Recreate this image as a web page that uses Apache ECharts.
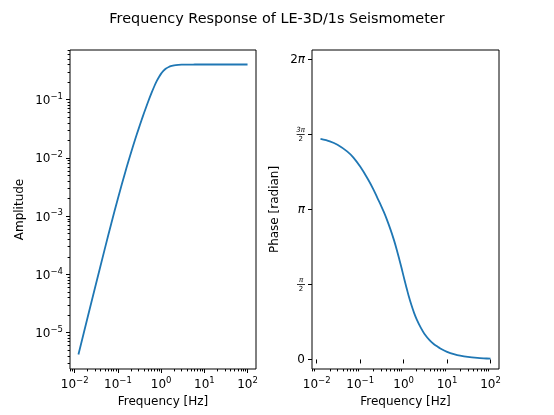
<!DOCTYPE html>
<html><head><meta charset="utf-8">
<script src="https://cdn.jsdelivr.net/npm/echarts@6/dist/echarts.min.js"></script>
<style>html,body{margin:0;padding:0;background:#fff}#c{width:554px;height:415px}</style>
</head><body><div id="c"></div>
<script>
const titleText = 'Frequency Response of LE-3D/1s Seismometer';
const freq = [0.0122, 0.02, 0.03, 0.05, 0.07, 0.1, 0.15, 0.2, 0.25, 0.3, 0.35, 0.4, 0.5, 0.6, 0.7, 0.8, 0.9, 1.0, 1.1, 1.2, 1.3, 1.5, 1.75, 2, 2.5, 3, 4, 5, 6, 7, 10, 15, 20, 30, 50, 70, 100];
const amplitude = [4.21e-6, 1.85e-5, 6.18e-5, 2.79e-4, 7.38e-4, 2.01e-3, 5.91e-3, 0.0121, 0.0206, 0.0311, 0.0437, 0.0581, 0.0918, 0.130, 0.171, 0.211, 0.247, 0.279, 0.305, 0.325, 0.341, 0.363, 0.378, 0.387, 0.394, 0.397, 0.399, 0.3994, 0.3997, 0.3998, 0.3999, 0.4, 0.4, 0.4, 0.4, 0.4, 0.4];
const phase = [4.62, 4.57, 4.50, 4.36, 4.23, 4.04, 3.78, 3.57, 3.38, 3.23, 3.09, 2.96, 2.72, 2.50, 2.29, 2.09, 1.91, 1.74, 1.59, 1.46, 1.34, 1.15, 0.97, 0.84, 0.66, 0.54, 0.40, 0.32, 0.27, 0.23, 0.16, 0.106, 0.079, 0.053, 0.032, 0.023, 0.016];

const xMajorTicks = [0.01, 0.1, 1, 10, 100];
const xMajorExps = ['\u22122', '\u22121', '0', '1', '2'];
const xMinorTicks = [0.008, 0.009,
  0.02, 0.03, 0.04, 0.05, 0.06, 0.07, 0.08, 0.09,
  0.2, 0.3, 0.4, 0.5, 0.6, 0.7, 0.8, 0.9,
  2, 3, 4, 5, 6, 7, 8, 9,
  20, 30, 40, 50, 60, 70, 80, 90];
const ampMajorTicks = [1e-5, 1e-4, 1e-3, 1e-2, 1e-1];
const ampMajorExps = ['\u22125', '\u22124', '\u22123', '\u22122', '\u22121'];
const ampMinorTicks = [3e-6, 4e-6, 5e-6, 6e-6, 7e-6, 8e-6, 9e-6,
  2e-5, 3e-5, 4e-5, 5e-5, 6e-5, 7e-5, 8e-5, 9e-5,
  2e-4, 3e-4, 4e-4, 5e-4, 6e-4, 7e-4, 8e-4, 9e-4,
  2e-3, 3e-3, 4e-3, 5e-3, 6e-3, 7e-3, 8e-3, 9e-3,
  0.02, 0.03, 0.04, 0.05, 0.06, 0.07, 0.08, 0.09,
  0.2, 0.3, 0.4, 0.5, 0.6, 0.7];
const phaseTicks = [0, Math.PI / 2, Math.PI, 3 * Math.PI / 2, 2 * Math.PI];
const phaseLabels = ['0', '{n|\u03c0}\n{l| }\n{d|2}', '{i|\u03c0}', '{n|3\u03c0}\n{l| }\n{d|2}', '2{i|\u03c0}'];

const xMin = 0.00778, xMax = 157.0;
const ampMin = 2.373e-6, ampMax = 0.7096;
const phaseMin = -0.2, phaseMax = 2 * Math.PI + 0.2;

const FONT = 'DejaVu Sans';
const supRich = {
  b: { fontSize: 12, fontFamily: FONT, color: '#000', lineHeight: 15, verticalAlign: 'bottom' },
  s: { fontSize: 8.5, fontFamily: FONT, color: '#000', lineHeight: 9, verticalAlign: 'top' }
};
function expIndex(ticks, v) {
  let best = 0, bd = Infinity;
  ticks.forEach((t, i) => { const d = Math.abs(Math.log10(t) - Math.log10(v)); if (d < bd) { bd = d; best = i; } });
  return best;
}
const tickLine = { color: '#000', width: 1 };

function logAxisMajor(gridIndex, position, min, max, ticks, exps, name, nameGap) {
  return {
    type: 'log', gridIndex, position, min, max, logBase: 10,
    name, nameLocation: 'middle', nameGap,
    nameTextStyle: { fontSize: 12, fontFamily: FONT, color: '#000' },
    axisLine: { show: false },
    splitLine: { show: false },
    axisTick: { show: true, customValues: ticks, length: 4, lineStyle: tickLine },
    axisLabel: {
      show: true, customValues: ticks, margin: 7,
      formatter: v => '{b|10}{s|' + exps[expIndex(ticks, v)] + '}',
      rich: supRich
    }
  };
}
function logAxisMinor(gridIndex, position, min, max, ticks) {
  return {
    type: 'log', gridIndex, position, offset: 0, min, max, logBase: 10,
    axisLine: { show: false }, splitLine: { show: false },
    axisTick: { show: true, customValues: ticks, length: 2.4, lineStyle: tickLine },
    axisLabel: { show: false }
  };
}

const chart = echarts.init(document.getElementById('c'), null, { renderer: 'canvas' });
chart.setOption({
  animation: false,
  backgroundColor: '#fff',
  title: {
    text: titleText, left: 'center', top: 7,
    textStyle: { fontSize: 14.4, fontWeight: 'normal', fontFamily: FONT, color: '#000' }
  },
  grid: [
    { left: 70, top: 50, width: 186, height: 319, show: true, borderColor: '#000', borderWidth: 1, backgroundColor: 'transparent' },
    { left: 312, top: 50, width: 187, height: 319, show: true, borderColor: '#000', borderWidth: 1, backgroundColor: 'transparent' }
  ],
  xAxis: [
    logAxisMajor(0, 'bottom', xMin, xMax, xMajorTicks, xMajorExps, 'Frequency [Hz]', 26),
    logAxisMinor(0, 'bottom', xMin, xMax, xMinorTicks),
    logAxisMajor(1, 'bottom', xMin, xMax, xMajorTicks, xMajorExps, 'Frequency [Hz]', 26),
    logAxisMinor(1, 'bottom', xMin, xMax, xMinorTicks)
  ],
  yAxis: [
    logAxisMajor(0, 'left', ampMin, ampMax, ampMajorTicks, ampMajorExps, 'Amplitude', 44),
    logAxisMinor(0, 'left', ampMin, ampMax, ampMinorTicks),
    {
      type: 'value', gridIndex: 1, position: 'left', min: phaseMin, max: phaseMax,
      name: 'Phase [radian]', nameLocation: 'middle', nameGap: 31,
      nameTextStyle: { fontSize: 12, fontFamily: FONT, color: '#000' },
      axisLine: { show: false }, splitLine: { show: false },
      axisTick: { show: true, customValues: phaseTicks, length: 4, lineStyle: tickLine },
      axisLabel: {
        show: true, customValues: phaseTicks, margin: 7,
        formatter: v => { let bi = 0, bd = Infinity; phaseTicks.forEach((t, i) => { const d = Math.abs(t - v); if (d < bd) { bd = d; bi = i; } }); return phaseLabels[bi]; },
        fontSize: 12, fontFamily: FONT, color: '#000',
        rich: {
          n: { fontSize: 7, fontFamily: FONT, color: '#000', lineHeight: 7, align: 'center', fontStyle: 'italic' },
          l: { width: 8, height: 0.8, lineHeight: 2, backgroundColor: '#000', align: 'center', fontSize: 1 },
          d: { fontSize: 7, fontFamily: FONT, color: '#000', lineHeight: 7, align: 'center' },
          i: { fontSize: 12, fontFamily: FONT, color: '#000', fontStyle: 'italic' }
        }
      }
    }
  ],
  series: [
    {
      type: 'line', xAxisIndex: 0, yAxisIndex: 0, showSymbol: false, symbol: 'none', smooth: 0.3,
      data: freq.map((f, i) => [f, amplitude[i]]),
      lineStyle: { color: '#1f77b4', width: 1.8 }, itemStyle: { color: '#1f77b4' }
    },
    {
      type: 'line', xAxisIndex: 2, yAxisIndex: 2, showSymbol: false, symbol: 'none', smooth: 0.3,
      data: freq.map((f, i) => [f, phase[i]]),
      lineStyle: { color: '#1f77b4', width: 1.8 }, itemStyle: { color: '#1f77b4' }
    }
  ]
});
</script></body></html>
